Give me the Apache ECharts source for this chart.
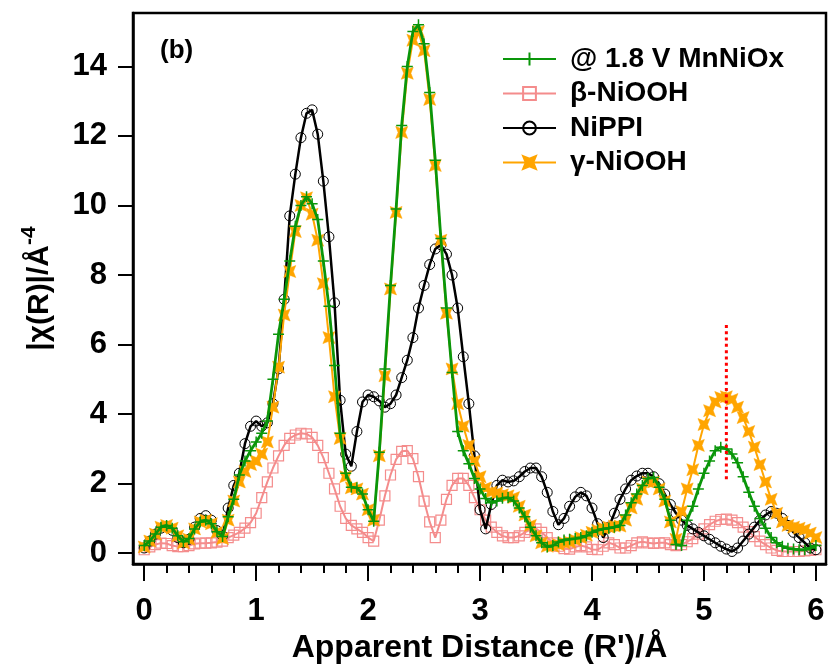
<!DOCTYPE html>
<html><head><meta charset="utf-8">
<script src="https://cdn.jsdelivr.net/npm/echarts@6/dist/echarts.min.js"></script>
<style>html,body{margin:0;padding:0;background:#fff}#c{width:828px;height:672px}</style>
</head><body><div id="c"></div>
<script>
// Apparent distance grid (Å)
const rValues = [0,0.05,0.1,0.15,0.2,0.25,0.3,0.35,0.4,0.45,0.5,0.55,0.6,0.65,0.7,0.75,0.8,0.85,0.9,0.95,
1,1.05,1.1,1.15,1.2,1.25,1.3,1.35,1.4,1.45,1.5,1.55,1.6,1.65,1.7,1.75,1.8,1.85,1.9,1.95,
2,2.05,2.1,2.15,2.2,2.25,2.3,2.35,2.4,2.45,2.5,2.55,2.6,2.65,2.7,2.75,2.8,2.85,2.9,2.95,
3,3.05,3.1,3.15,3.2,3.25,3.3,3.35,3.4,3.45,3.5,3.55,3.6,3.65,3.7,3.75,3.8,3.85,3.9,3.95,
4,4.05,4.1,4.15,4.2,4.25,4.3,4.35,4.4,4.45,4.5,4.55,4.6,4.65,4.7,4.75,4.8,4.85,4.9,4.95,
5,5.05,5.1,5.15,5.2,5.25,5.3,5.35,5.4,5.45,5.5,5.55,5.6,5.65,5.7,5.75,5.8,5.85,5.9,5.95,6];

// @ 1.8 V MnNiOx
const mnNiOx = [0.22,0.35,0.55,0.75,0.80,0.72,0.50,0.33,0.42,0.70,0.90,0.95,0.85,0.62,0.48,1.05,1.55,2.25,2.65,2.95,
3.20,3.45,3.80,5.00,6.30,7.30,8.40,9.40,10.00,10.25,10.05,9.60,8.40,7.10,5.40,3.45,2.30,1.90,1.88,1.70,
1.25,0.92,2.90,5.30,7.70,9.90,12.30,14.00,15.00,15.20,14.65,13.25,11.30,9.05,7.05,5.20,3.50,2.95,2.57,2.15,
1.85,1.57,1.45,1.50,1.58,1.60,1.50,1.30,1.05,0.75,0.50,0.30,0.18,0.22,0.32,0.38,0.40,0.42,0.45,0.50,
0.60,0.66,0.70,0.72,0.75,0.80,1.10,1.45,1.70,1.95,2.15,2.18,1.90,1.55,0.95,0.25,0.22,0.95,1.35,1.85,
2.30,2.65,2.95,3.05,3.00,2.85,2.60,2.20,1.75,1.35,1.00,0.72,0.45,0.30,0.20,0.14,0.12,0.10,0.10,0.15,0.22];

// β-NiOOH
const betaNiOOH = [0.10,0.18,0.25,0.29,0.28,0.22,0.19,0.19,0.22,0.27,0.29,0.29,0.30,0.32,0.35,0.45,0.52,0.60,0.72,0.88,
1.15,1.60,2.05,2.45,2.80,3.10,3.30,3.40,3.45,3.43,3.33,3.10,2.75,2.30,1.85,1.35,1.00,0.80,0.70,0.60,
0.45,0.35,0.95,1.65,2.25,2.70,2.93,2.95,2.72,2.20,1.50,0.90,0.45,0.95,1.55,1.95,2.15,2.15,1.95,1.60,
1.25,0.95,0.75,0.60,0.50,0.45,0.45,0.50,0.60,0.68,0.70,0.60,0.45,0.30,0.20,0.13,0.12,0.18,0.22,0.18,
0.11,0.10,0.20,0.30,0.25,0.15,0.15,0.22,0.30,0.33,0.30,0.28,0.30,0.30,0.25,0.22,0.25,0.33,0.42,0.55,
0.70,0.82,0.92,0.97,0.98,0.95,0.88,0.75,0.62,0.48,0.35,0.25,0.15,0.08,0.05,0.05,0.05,0.05,0.07,0.08,0.10];

// NiPPI
const niPPI = [0.15,0.35,0.55,0.72,0.76,0.66,0.45,0.30,0.40,0.75,1.00,1.08,0.95,0.65,0.50,1.30,1.95,2.30,3.15,3.65,
3.80,3.65,3.75,4.30,5.30,7.30,9.70,10.90,11.95,12.65,12.75,12.05,10.70,9.10,7.20,4.40,2.85,2.50,3.50,4.35,
4.55,4.50,4.38,4.20,4.30,4.55,5.05,5.55,6.20,7.05,7.70,8.30,8.75,8.87,8.60,8.00,7.05,5.65,4.30,2.80,
1.25,0.70,1.40,1.95,2.10,2.05,2.08,2.20,2.35,2.45,2.45,2.20,1.75,1.20,0.82,1.00,1.35,1.62,1.75,1.65,
1.30,0.85,0.45,0.75,1.15,1.55,1.85,2.10,2.22,2.30,2.30,2.20,2.00,1.70,1.40,1.15,0.95,0.80,0.70,0.60,
0.50,0.40,0.30,0.20,0.12,0.05,0.15,0.35,0.55,0.75,0.95,1.10,1.20,1.15,1.00,0.80,0.60,0.45,0.30,0.15,0.10];

// γ-NiOOH
const gammaNiOOH = [0.18,0.35,0.55,0.75,0.80,0.72,0.50,0.30,0.40,0.70,0.90,0.95,0.85,0.60,0.42,0.95,1.50,2.05,2.35,2.55,
2.65,2.85,3.20,4.20,5.35,6.85,8.10,9.25,10.00,10.22,9.75,9.00,7.75,6.20,4.50,3.30,2.20,1.88,1.85,1.70,
1.25,0.95,2.80,5.10,7.60,9.80,12.10,13.80,14.75,15.00,14.45,13.05,11.15,9.00,6.90,5.30,4.30,3.65,3.10,2.65,
2.20,1.88,1.76,1.73,1.68,1.65,1.60,1.35,1.10,0.80,0.50,0.30,0.20,0.20,0.25,0.30,0.32,0.38,0.45,0.52,
0.60,0.66,0.72,0.75,0.78,0.78,0.95,1.30,1.55,1.85,2.05,2.05,1.85,1.50,0.90,0.40,1.20,1.85,2.40,3.10,
3.70,4.10,4.35,4.48,4.50,4.42,4.20,3.90,3.50,3.05,2.55,2.05,1.55,1.15,0.90,0.80,0.75,0.72,0.68,0.58,0.45];

// red dotted marker line
const markerLineR = [5.2, 5.2];
const markerLineY = [2.13, 6.57];

// ticks
const xMajorTicks = [0,1,2,3,4,5,6];
const xMinorTicks = [0.2,0.4,0.6,0.8,1.2,1.4,1.6,1.8,2.2,2.4,2.6,2.8,3.2,3.4,3.6,3.8,4.2,4.4,4.6,4.8,5.2,5.4,5.6,5.8];
const yMajorTicks = [0,2,4,6,8,10,12,14];

const names = ['@ 1.8 V MnNiOx','β-NiOOH','NiPPI','γ-NiOOH'];
const FONT = '"Liberation Sans", Arial, sans-serif';
const pairs = arr => rValues.map((r,i)=>[r, arr[i]]);
const X_MIN = -0.1, X_MAX = 6.09, Y_MIN = -0.31, Y_MAX = 15.535;

const chart = echarts.init(document.getElementById('c'), null, {renderer:'canvas'});
const tickStyle = {color:'#000', width:2};
chart.setOption({
  animation:false,
  backgroundColor:'#fff',
  grid:{left:133, right:2, top:13, bottom:108, show:true, borderColor:'#000', borderWidth:2.5, containLabel:false, outerBoundsMode:'none'},
  legend:{
    data:names, orient:'vertical', left:502, top:45, padding:0, itemWidth:53, itemHeight:16, itemGap:6.5,
    selectedMode:false,
    textStyle:{fontFamily:FONT, fontSize:28, fontWeight:'bold', color:'#000', lineHeight:28, padding:[0,0,0,9]}
  },
  graphic:[{type:'text', left:160, top:38, style:{text:'(b)', font:'bold 26px "Liberation Sans", Arial, sans-serif', fill:'#000'}}],
  xAxis:[{
    type:'value', min:X_MIN, max:X_MAX, position:'bottom',
    axisLine:{show:true, onZero:false, lineStyle:{color:'#000', width:2.5}},
    axisTick:{show:true, inside:false, length:17, customValues:xMajorTicks, lineStyle:tickStyle},
    axisLabel:{show:true, customValues:xMajorTicks, margin:32, fontSize:31, fontWeight:'bold', color:'#000', fontFamily:FONT},
    splitLine:{show:false},
    name:"Apparent Distance (R')/Å", nameLocation:'middle', nameGap:66,
    nameTextStyle:{fontSize:32, fontWeight:'bold', color:'#000', fontFamily:FONT}
  },{
    type:'value', min:X_MIN, max:X_MAX, position:'bottom',
    axisLine:{show:false, onZero:false},
    axisTick:{show:true, inside:false, length:9, customValues:xMinorTicks, lineStyle:tickStyle},
    axisLabel:{show:false}, splitLine:{show:false}
  }],
  yAxis:{
    type:'value', min:Y_MIN, max:Y_MAX,
    axisLine:{show:true, onZero:false, lineStyle:{color:'#000', width:2.5}},
    axisTick:{show:true, inside:false, length:15, customValues:yMajorTicks, lineStyle:tickStyle},
    axisLabel:{show:true, customValues:yMajorTicks, margin:26, fontSize:31, fontWeight:'bold', color:'#000', fontFamily:FONT},
    splitLine:{show:false},
    name:'{t||χ(R)|/Å}{s|-4}', nameLocation:'middle', nameRotate:90, nameGap:78,
    nameTextStyle:{fontFamily:FONT, color:'#000',
      rich:{t:{fontSize:30, fontWeight:'bold', fontFamily:FONT, color:'#000', lineHeight:36, verticalAlign:'bottom'},
            s:{fontSize:21, fontWeight:'bold', fontFamily:FONT, color:'#000', lineHeight:36, verticalAlign:'top'}}}
  },
  series:[
    {name:names[1], type:'line', z:2, data:pairs(betaNiOOH), symbol:'rect', symbolSize:10,
     lineStyle:{color:'#f48c8c', width:2}, itemStyle:{color:'rgba(0,0,0,0)', borderColor:'#f48c8c', borderWidth:1.2}},
    {name:names[2], type:'line', z:3, data:pairs(niPPI), symbol:'circle', symbolSize:10,
     lineStyle:{color:'#000', width:2.5}, itemStyle:{color:'rgba(0,0,0,0)', borderColor:'#000', borderWidth:1}},
    {name:names[3], type:'line', z:4, data:pairs(gammaNiOOH),
     symbol:'path://M-1,-1 L0,-0.6 L1,-1 L0.6,0 L1,1 L0,0.6 L-1,1 L-0.6,0 Z', symbolSize:12,
     lineStyle:{color:'#ffa500', width:2}, itemStyle:{color:'#ffa500', borderColor:'#ffa500', borderWidth:0.5}},
    {name:names[0], type:'line', z:5, data:pairs(mnNiOx),
     symbol:'path://M0,-1 L0,1 M-1,0 L1,0', symbolSize:11,
     lineStyle:{color:'#0a960a', width:2.8}, itemStyle:{color:'#0a960a', borderColor:'#0a960a', borderWidth:1.5}},
    {name:'marker', type:'line', z:10, data:markerLineR.map((r,i)=>[r, markerLineY[i]]), symbol:'none',
     lineStyle:{color:'#ff0000', width:3, type:[3,3.3]}}
  ]
});
</script></body></html>
